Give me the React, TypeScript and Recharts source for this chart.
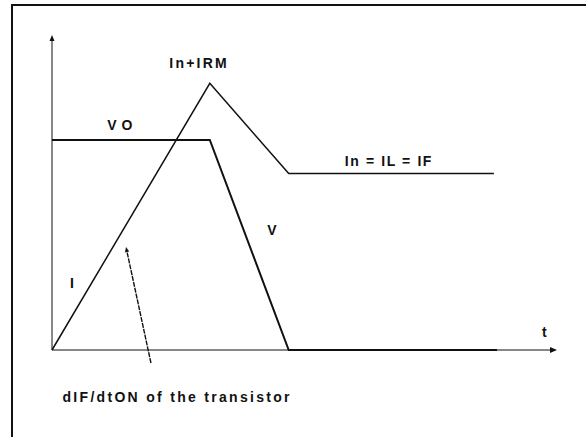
import React from 'react';
import { LineChart, Line, XAxis, YAxis, ReferenceLine, ReferenceDot } from 'recharts';

// current through the transistor (time units, current units)
const currentTime = [0, 10, 15, 28];
const currentValues = [0, 12.7, 8.4, 8.4];

// voltage across the diode
const voltageTime = [0, 10, 15, 28.2];
const voltageValues = [10, 10, 0, 0];

const currentData = currentTime.map((t, i) => ({ t, v: currentValues[i] }));
const voltageData = voltageTime.map((t, i) => ({ t, v: voltageValues[i] }));

const FONT = '"Liberation Sans", Arial, Helvetica, sans-serif';
const INK = '#111';

// annotations, placed in data coordinates
const labels = [
    { text: 'In+IRM', t: 9.25, v: 13.67, spacing: 2.2 },
    { text: 'VO', t: 4.3, v: 10.7, spacing: 5 },
    { text: 'In = IL = IF', t: 21.3, v: 9.0, spacing: 1.6 },
    { text: 'V', t: 13.94, v: 5.71, spacing: 0 },
    { text: 'I', t: 1.27, v: 3.19, spacing: 0 },
    { text: 't', t: 31.2, v: 0.86, spacing: 0 },
    { text: 'dIF/dtON of the transistor', t: 7.86, v: -2.24, spacing: 2.3 },
];

const Arrow = (props: any) => {
    const { x1, y1, x2, y2, head = 7, half = 3, dash, sw = 1 } = props;
    const dx = x2 - x1;
    const dy = y2 - y1;
    const len = Math.sqrt(dx * dx + dy * dy) || 1;
    const ux = dx / len;
    const uy = dy / len;
    const bx = x2 - ux * head;
    const by = y2 - uy * head;
    const px = -uy * half;
    const py = ux * half;
    return (
        <g>
            <line x1={x1} y1={y1} x2={bx} y2={by} stroke={INK} strokeWidth={sw} strokeDasharray={dash} />
            <polygon points={`${x2},${y2} ${bx + px},${by + py} ${bx - px},${by - py}`} fill={INK} />
        </g>
    );
};

const Label = (props: any) => {
    const { cx, cy, text, spacing } = props;
    return (
        <text
            x={cx + spacing / 2}
            y={cy}
            textAnchor="middle"
            dominantBaseline="central"
            fontFamily={FONT}
            fontWeight="bold"
            fontSize={14}
            letterSpacing={spacing}
            fill={INK}
        >
            {text}
        </text>
    );
};

export default function App() {
    return (
        <div style={{ position: 'absolute', left: 0, top: 0, width: 586, height: 437, background: '#fff' }}>
            {/* frame */}
            <div style={{
                position: 'absolute', left: 11, top: 4, right: 0, bottom: 0,
                borderTop: '2px solid #111', borderLeft: '2px solid #111'
            }} />
            <LineChart
                width={586}
                height={437}
                margin={{ top: 35, right: 29, bottom: 87, left: 52 }}
                style={{ position: 'absolute', left: 0, top: 0 }}
            >
                <XAxis type="number" dataKey="t" domain={[0, 32]} hide />
                <YAxis type="number" domain={[0, 15]} hide />

                {/* axes with arrow heads */}
                <ReferenceLine
                    segment={[{ x: 0, y: 0 }, { x: 32, y: 0 }]}
                    ifOverflow="visible"
                    shape={(p: any) => <Arrow {...p} head={7} half={3} />}
                />
                <ReferenceLine
                    segment={[{ x: 0, y: 0 }, { x: 0, y: 15 }]}
                    ifOverflow="visible"
                    shape={(p: any) => <Arrow {...p} head={6} half={2.5} />}
                />
                {/* dIF/dt pointer */}
                <ReferenceLine
                    segment={[{ x: 6.27, y: -0.62 }, { x: 4.69, y: 4.9 }]}
                    ifOverflow="visible"
                    shape={(p: any) => <Arrow {...p} head={5} half={2.2} dash="5 1" sw={1.4} />}
                />

                <Line
                    data={voltageData}
                    dataKey="v"
                    type="linear"
                    stroke={INK}
                    strokeWidth={2}
                    dot={false}
                    activeDot={false}
                    isAnimationActive={false}
                />
                <Line
                    data={currentData}
                    dataKey="v"
                    type="linear"
                    stroke={INK}
                    strokeWidth={1.5}
                    dot={false}
                    activeDot={false}
                    isAnimationActive={false}
                />

                {labels.map((l) => (
                    <ReferenceDot
                        key={l.text}
                        x={l.t}
                        y={l.v}
                        r={0}
                        ifOverflow="visible"
                        shape={(p: any) => <Label {...p} text={l.text} spacing={l.spacing} />}
                    />
                ))}
            </LineChart>
        </div>
    );
}
